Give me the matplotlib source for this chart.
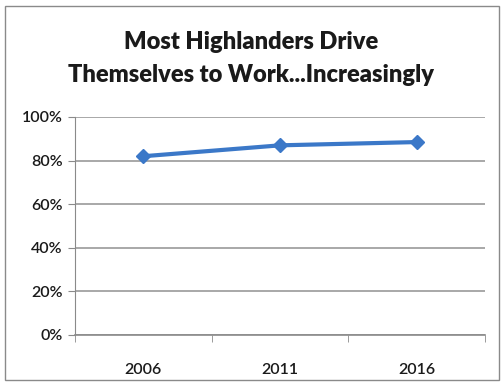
import matplotlib
matplotlib.use("Agg")
import matplotlib.pyplot as plt
from matplotlib.patches import Rectangle
from matplotlib.ticker import FuncFormatter

years = ["2006", "2011", "2016"]
share_driving = [0.82, 0.87, 0.885]
y_ticks = [0.0, 0.2, 0.4, 0.6, 0.8, 1.0]

plt.rcParams['font.family'] = ['Lato', 'DejaVu Sans']

fig = plt.figure(figsize=(5.03, 3.85), dpi=100)
fig.patch.set_facecolor("white")

# outer chart border
fig.patches.append(Rectangle((5 / 503, 5 / 385), 494 / 503, 374 / 385,
                             transform=fig.transFigure, fill=False,
                             edgecolor="#8a8a8a", linewidth=1.0))

ax = fig.add_axes([75 / 503, 1 - 335 / 385, 410 / 503, 218 / 385])
x = list(range(len(years)))
ax.plot(x, share_driving, color="#3b78c8", linewidth=3, marker="D",
        markersize=7, markeredgecolor="#3b78c8", zorder=3)

ax.set_xlim(-0.5, len(years) - 0.5)
ax.set_ylim(0, 1.0)
ax.set_yticks(y_ticks)
ax.yaxis.set_major_formatter(FuncFormatter(lambda v, p: f"{v * 100:.0f}%"))
ax.set_xticks(x)
ax.set_xticklabels(years)
ax.set_xticks([-0.5, 0.5, 1.5, 2.5], minor=True)

ax.grid(axis="y", color="#9a9a9a", linewidth=1.2)
ax.set_axisbelow(True)
for s in ["top", "right"]:
    ax.spines[s].set_visible(False)
ax.spines["left"].set_color("#8a8a8a")
ax.spines["bottom"].set_color("#8a8a8a")
ax.spines["bottom"].set_linewidth(1.2)

ax.tick_params(axis="y", length=5, color="#8a8a8a", labelsize=11.5,
               labelcolor="#1a1a1a", pad=4)
ax.tick_params(axis="x", which="major", length=0, labelsize=11.5,
               labelcolor="#1a1a1a", pad=20)
ax.tick_params(axis="x", which="minor", length=5, color="#8a8a8a")
for lbl in ax.get_xticklabels() + ax.get_yticklabels():
    lbl.set_fontfamily(['Lato', 'DejaVu Sans'])
    lbl.set_fontweight("semibold")

fig.text(0.5, 1 - 42 / 385, "Most Highlanders Drive", ha="center",
         va="center", fontsize=17, fontweight="heavy", color="#1a1a1a")
fig.text(0.5, 1 - 75 / 385, "Themselves to Work...Increasingly", ha="center",
         va="center", fontsize=17, fontweight="heavy", color="#1a1a1a")

fig.savefig("out.png", dpi=100)
